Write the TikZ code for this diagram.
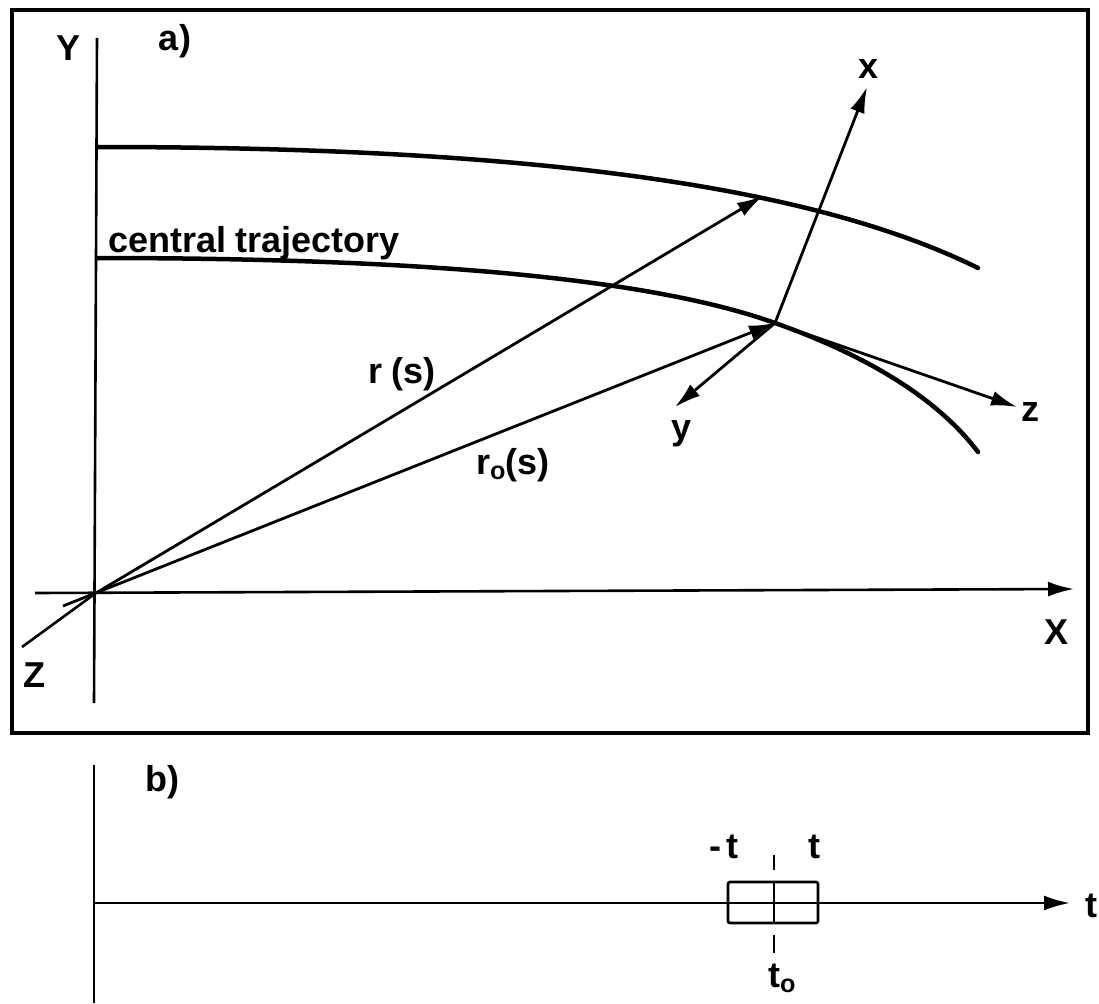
\documentclass[tikz,border=0pt]{standalone}
\usepackage{fontspec}
\setmainfont{Liberation Sans}
\usetikzlibrary{arrows.meta}
\begin{document}
\begin{tikzpicture}[x=1pt,y=-1pt,
  lab/.style={font=\fontsize{36}{40}\selectfont\bfseries, inner sep=0pt},
  traj/.style={line width=4.5pt, line cap=round},
  vec/.style={line width=2.8pt, -{Latex[length=26pt,width=15pt]}},
  axisline/.style={line width=2.6pt},
  frameline/.style={line width=3.2pt}]
\useasboundingbox (0,0) rectangle (1099,1003);
% frame of part a
\draw[frameline] (12,10) rectangle (1088,733);
% coordinates
\coordinate (O) at (96,593);
\coordinate (Ytop) at (97,38);
\coordinate (Ybot) at (94,703);
\coordinate (Xl) at (35,593);
\coordinate (Xr) at (1074,589);
\coordinate (Zend) at (22,647);
\coordinate (Q) at (763,196);
\coordinate (P) at (775,323);
\coordinate (r0tail) at (63,606);
\coordinate (xend) at (867,87);
\coordinate (zend) at (1017,407);
\coordinate (yend) at (675,407);
% axes
\draw[axisline] (Ytop) -- (Ybot);
\draw[axisline,-{Latex[length=26pt,width=15pt]}] (Xl) -- (Xr);
\draw[axisline] (Zend) -- (O);
% trajectories
\draw[traj] (97,147) .. controls (500,147) and (800,180) .. (978,268);
\draw[traj] (97,258) .. controls (450,258) and (660,282) .. (P)
                     .. controls (860,353) and (935,395) .. (978,452);
% vectors
\draw[vec] (O) -- (Q);
\draw[vec] (r0tail) -- (P);
\draw[vec] (P) -- (xend);
\draw[vec] (P) -- (zend);
\draw[vec] (P) -- (yend);
% labels part a
\node[lab] (lY) at (69,48) {Y};
\node[lab] (la) at (175,41) {a)};
\node[lab,anchor=base west] (lct) at (108,252) {central\hspace{0.25em}trajectory};
\node[lab] (lr) at (402,374) {r (s)};
\node[lab] (lr0) at (513,465) {r\textsubscript{o}(s)};
\node[lab] (lx) at (868,69) {x};
\node[lab] (lz) at (1030,412) {z};
\node[lab] (ly) at (681,434) {y};
\node[lab] (lX) at (1056,632) {X};
\node[lab] (lZ) at (34,675) {Z};
% part b
\coordinate (Btop) at (94,765);
\coordinate (Bbot) at (94,1003);
\coordinate (Tl) at (94,903);
\coordinate (Tr) at (1070,903);
\draw[axisline] (Btop) -- (Bbot);
\draw[axisline,-{Latex[length=26pt,width=15pt]}] (Tl) -- (Tr);
\node[lab] (lb) at (162,782) {b)};
\draw[axisline, rounded corners=2pt] (728,882) rectangle (818,923);
\draw[axisline] (774,882) -- (774,923);
\draw[axisline] (774,855) -- (774,870);
\draw[axisline] (774,935) -- (774,953);
\node[lab] (lmt) at (724,847) {-\,t};
\node[lab] (lt) at (814,847) {t};
\node[lab] (lt0) at (782,978) {t\textsubscript{o}};
\node[lab] (ltax) at (1091,906) {t};
\end{tikzpicture}
\end{document}
